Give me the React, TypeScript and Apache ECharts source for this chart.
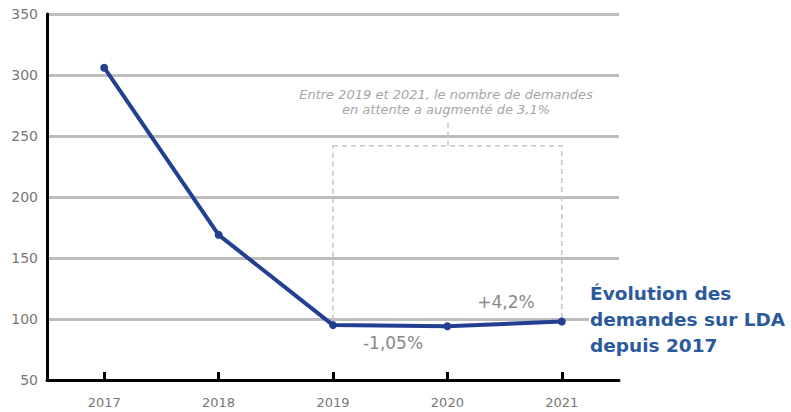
import React, { useEffect, useRef } from "react";
import * as echarts from "echarts";

const years = ["2017", "2018", "2019", "2020", "2021"];
const demandes = [306, 169, 95, 94, 98];
const boxRange = [100, 242];
const connectorRange = [242, 264];
const noteLines = ["Entre 2019 et 2021, le nombre de demandes", "en attente a augmenté de 3,1%"];
const titleLines = ["Évolution des", "demandes sur LDA", "depuis 2017"];

export default function App() {
  const ref = useRef<HTMLDivElement>(null);
  useEffect(() => {
    if (!ref.current) return;
    const chart = echarts.init(ref.current, null, { renderer: "svg" });
    const font = "DejaVu Sans, Verdana, sans-serif";
    chart.setOption({
      animation: false,
      grid: { left: 47, right: 172, top: 14, bottom: 32 },
      xAxis: {
        type: "category",
        data: years,
        axisLine: { show: true, lineStyle: { color: "#000", width: 3 } },
        axisTick: { show: true, inside: true, alignWithLabel: true, length: 8, lineStyle: { color: "#000", width: 3 } },
        axisLabel: { color: "#777", fontSize: 13, fontFamily: font, margin: 16 },
        z: 5,
      },
      yAxis: {
        type: "value",
        min: 50,
        max: 350,
        interval: 50,
        axisLine: { show: true, lineStyle: { color: "#000", width: 3 } },
        axisTick: { show: false },
        axisLabel: { color: "#777", fontSize: 14, fontFamily: font, margin: 9 },
        splitLine: { show: true, lineStyle: { color: "#bdbdbd", width: 3 } },
      },
      series: [
        {
          type: "line",
          data: demandes,
          symbol: "circle",
          symbolSize: 8,
          lineStyle: { color: "#233f90", width: 4 },
          itemStyle: { color: "#233f90" },
          z: 4,
          markArea: {
            silent: true,
            itemStyle: { color: "rgba(0,0,0,0)", borderColor: "#c4c4c4", borderWidth: 1.5, borderType: [5, 4] },
            data: [[{ coord: ["2019", boxRange[1]] }, { coord: ["2021", boxRange[0]] }]],
          },
          markLine: {
            silent: true,
            symbol: "none",
            label: { show: false },
            lineStyle: { color: "#c4c4c4", width: 1.5, type: [5, 4] },
            data: [[{ coord: ["2020", connectorRange[0]] }, { coord: ["2020", connectorRange[1]] }]],
          },
        },
      ],
      graphic: [
        {
          type: "text",
          x: 446,
          y: 102,
          z: 20,
          style: {
            text: noteLines.join("\n"),
            fill: "#a6a6a6",
            font: "italic 13px " + font,
            lineHeight: 15,
            align: "center",
            verticalAlign: "middle",
          },
        },
        {
          type: "text",
          x: 506,
          y: 302,
          z: 20,
          style: { text: "+4,2%", fill: "#888", font: "17px " + font, align: "center", verticalAlign: "middle" },
        },
        {
          type: "text",
          x: 393,
          y: 343,
          z: 20,
          style: { text: "-1,05%", fill: "#888", font: "17px " + font, align: "center", verticalAlign: "middle" },
        },
        {
          type: "rect",
          z: 20,
          shape: { x: 589, y: 308, width: 40, height: 22 },
          style: { fill: "#fff" },
        },
        {
          type: "text",
          x: 590,
          y: 319,
          z: 21,
          style: {
            text: titleLines.join("\n"),
            fill: "#2a5a9c",
            font: "bold 18.5px " + font,
            lineHeight: 26,
            align: "left",
            verticalAlign: "middle",
          },
        },
      ],
    });
    return () => chart.dispose();
  }, []);
  return <div ref={ref} style={{ position: "absolute", left: 0, top: 0, width: 791, height: 412 }} />;
}
